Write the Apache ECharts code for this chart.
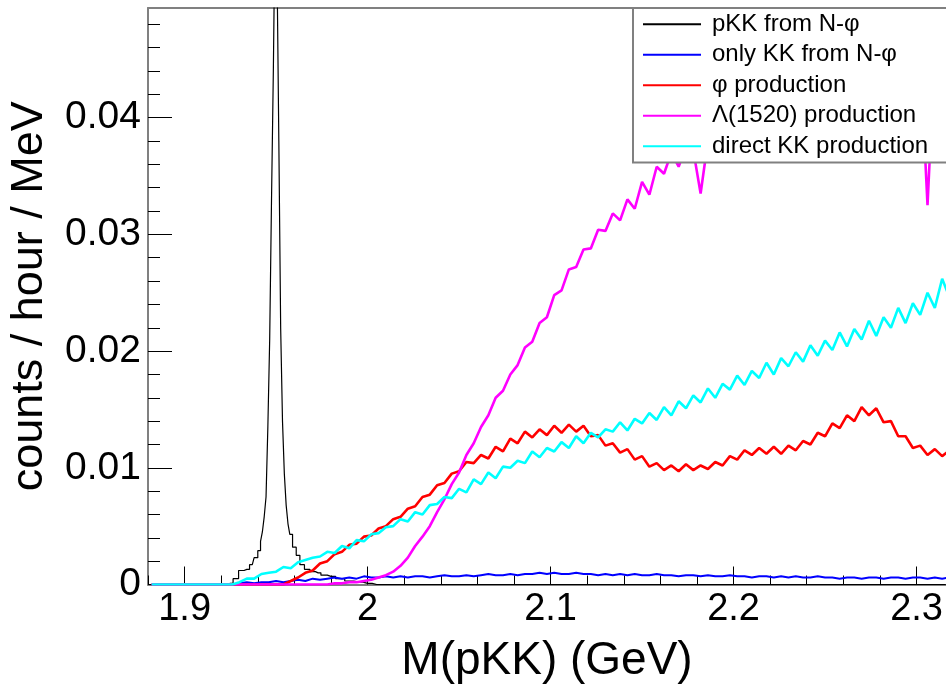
<!DOCTYPE html>
<html>
<head>
<meta charset="utf-8">
<script src="https://cdn.jsdelivr.net/npm/echarts@6/dist/echarts.min.js"></script>
<style>
html,body{margin:0;padding:0;background:#fff;}
#c{width:946px;height:691px;}
</style>
</head>
<body>
<div id="c"></div>
<script>
// ---- data (4 MeV bins, bin centres in GeV) ----
const mass = [
 1.882,1.886,1.890,1.894,1.898,1.902,1.906,1.910,1.914,1.918,
 1.922,1.926,1.930,1.934,1.938,1.942,1.946,1.950,1.954,1.958,
 1.962,1.966,1.970,1.974,1.978,1.982,1.986,1.990,1.994,1.998,
 2.002,2.006,2.010,2.014,2.018,2.022,2.026,2.030,2.034,2.038,
 2.042,2.046,2.050,2.054,2.058,2.062,2.066,2.070,2.074,2.078,
 2.082,2.086,2.090,2.094,2.098,2.102,2.106,2.110,2.114,2.118,
 2.122,2.126,2.130,2.134,2.138,2.142,2.146,2.150,2.154,2.158,
 2.162,2.166,2.170,2.174,2.178,2.182,2.186,2.190,2.194,2.198,
 2.202,2.206,2.210,2.214,2.218,2.222,2.226,2.230,2.234,2.238,
 2.242,2.246,2.250,2.254,2.258,2.262,2.266,2.270,2.274,2.278,
 2.282,2.286,2.290,2.294,2.298,2.302,2.306,2.310,2.314,2.318
];

const onlyKK = [
 0,0,0,0,0,0,0,0,0,0,
 0,0,.0001,.0002,.0001,.0002,.0002,.0003,.0002,.0003,
 .0004,.0003,.0005,.0004,.0005,.0006,.0005,.0006,.0005,.0007,
 .0006,.0006,.0007,.0006,.0007,.0006,.0007,.0007,.0006,.0007,
 .0008,.0007,.0007,.0008,.0007,.0008,.0009,.0008,.0008,.0009,
 .0008,.0009,.0009,.0010,.0009,.0010,.0009,.0009,.0010,.0009,
 .0009,.0008,.0009,.0008,.0009,.0008,.0009,.0008,.0008,.0009,
 .0008,.0008,.0007,.0008,.0008,.0007,.0008,.0007,.0007,.0008,
 .0007,.0007,.0006,.0007,.0007,.0006,.0007,.0006,.0007,.0006,
 .0006,.0007,.0006,.0006,.0005,.0006,.0006,.0005,.0006,.0006,
 .0005,.0006,.0006,.0005,.0006,.0006,.0005,.0006,.0005,.0006
];

const phiProd = [
 0,0,0,0,0,0,0,0,0,0,
 0,0,0,0,0,0,0,0,0,.0003,
 .0006,.0010,.0012,.0018,.0020,.0026,.0028,.0034,.0035,.0041,
 .0042,.0048,.0050,.0056,.0058,.0065,.0067,.0075,.0077,.0085,
 .0087,.0095,.0097,.0105,.0104,.0111,.0108,.0118,.0114,.0125,
 .0121,.0131,.0126,.0133,.0128,.0136,.0130,.0137,.0131,.0136,
 .0127,.0128,.0119,.0121,.0113,.0116,.0107,.0110,.0101,.0104,
 .0098,.0102,.0097,.0103,.0098,.0102,.0099,.0105,.0102,.0110,
 .0107,.0115,.0111,.0117,.0112,.0118,.0112,.0119,.0115,.0123,
 .0120,.0130,.0127,.0138,.0134,.0145,.0140,.0152,.0145,.0151,
 .0139,.0140,.0127,.0127,.0117,.0119,.0111,.0116,.0110,.0115
];

const lambdaProd = [
 0,0,0,0,0,0,0,0,0,0,
 0,0,0,0,0,0,0,0,0,0,
 0,0,0,0,0,.0001,.0001,.0002,.0002,.0003,
 .0004,.0006,.0008,.0011,.0016,.0023,.0033,.0041,.0050,.0062,
 .0073,.0086,.0096,.0111,.0121,.0135,.0145,.0160,.0166,.0180,
 .0188,.0203,.0208,.0224,.0229,.0248,.0252,.0270,.0272,.0287,
 .0288,.0304,.0303,.0318,.0312,.0330,.0322,.0345,.0334,.0358,
 .0352,.0370,.0358,.0376,.0372,.0335,.0380,.0395,.0388,.0402,
 .0398,.0410,.0404,.0415,.0410,.0420,.0414,.0425,.0418,.0428,
 .0424,.0432,.0427,.0437,.0431,.0440,.0434,.0444,.0438,.0448,
 .0442,.0450,.0444,.0452,.0447,.0455,.0325,.0457,.0451,.0458
];

const directKK = [
 0,0,0,0,0,0,0,0,0,0,
 0,0,.0002,.0005,.0005,.0009,.0010,.0011,.0015,.0014,
 .0019,.0021,.0023,.0024,.0028,.0027,.0033,.0031,.0038,.0037,
 .0043,.0044,.0049,.0050,.0056,.0054,.0062,.0060,.0068,.0069,
 .0075,.0074,.0082,.0079,.0090,.0086,.0096,.0091,.0101,.0100,
 .0106,.0104,.0114,.0109,.0117,.0114,.0122,.0117,.0127,.0121,
 .0130,.0126,.0133,.0131,.0139,.0132,.0142,.0138,.0147,.0141,
 .0152,.0145,.0157,.0151,.0162,.0156,.0168,.0160,.0172,.0167,
 .0179,.0171,.0183,.0177,.0190,.0180,.0194,.0187,.0199,.0191,
 .0205,.0196,.0209,.0201,.0216,.0204,.0219,.0210,.0226,.0213,
 .0229,.0220,.0237,.0224,.0241,.0231,.0250,.0237,.0262,.0246
];

// pKK from N-phi: narrow peak, finer bins
const pkkMass = [1.880,1.920,1.925,1.928,1.931,1.934,1.937,1.939,1.941,1.942,
 1.943,1.944,1.945,1.946,1.947,1.948,1.949,1.950,1.951,1.952,
 1.953,1.954,1.955,1.956,1.957,1.958,1.960,1.962,1.964,1.967,
 1.970,1.973,1.976,1.980,1.985,1.990,1.995,2.000,2.005,2.316];
const pkkCounts = [0,0,.0001,.0005,.0012,.0013,.0017,.0023,.0029,.0037,
 .0045,.0058,.0075,.0135,.0210,.0330,.0440,.0580,.0530,.0380,
 .0220,.0140,.0095,.0068,.0052,.0043,.0032,.0025,.0017,.0013,
 .0011,.0010,.0008,.0007,.0005,.0003,.0002,.0001,0,0];

const seriesNames = ['pKK from N-\u03c6','only KK from N-\u03c6','\u03c6 production','\u039b(1520) production','direct KK production'];
const seriesColors = ['#000000','#0000ff','#ff0000','#ff00ff','#00ffff'];

const xMajor = [1.9,2.0,2.1,2.2,2.3];
const xMinor = [1.88,1.92,1.94,1.96,1.98,2.02,2.04,2.06,2.08,2.12,2.14,2.16,2.18,2.22,2.24,2.26,2.28,2.32];
const yMajor = [0,0.01,0.02,0.03,0.04];
const yMinor = [0.002,0.004,0.006,0.008,0.012,0.014,0.016,0.018,0.022,0.024,0.026,0.028,0.032,0.034,0.036,0.038,0.042,0.044,0.046,0.048];

// ---- chart ----
const FONT = '"Liberation Sans", Arial, Helvetica, sans-serif';
const X_MIN = 1.88, X_MAX = 2.3161, Y_MIN = 0, Y_MAX = 0.0494;
const AXIS_GRAY = '#808080';

const pairs = (xs, ys) => xs.map((x, i) => [x, ys[i]]);
const seriesData = [
  pairs(pkkMass, pkkCounts),
  pairs(mass, onlyKK),
  pairs(mass, phiProd),
  pairs(mass, lambdaProd),
  pairs(mass, directKK)
];
const seriesWidths = [1.2, 2, 2.6, 2.6, 2.6];

const chart = echarts.init(document.getElementById('c'), null, {renderer: 'canvas', devicePixelRatio: 1});

const option = {
  animation: false,
  backgroundColor: '#ffffff',
  grid: {left: 148, right: 0, top: 8, bottom: 106.5, containLabel: false, outerBoundsMode: 'none'},
  xAxis: [
    {
      type: 'value', min: X_MIN, max: X_MAX, position: 'bottom',
      axisLine: {show: true, onZero: false, lineStyle: {color: AXIS_GRAY, width: 2}},
      axisTick: {show: true, inside: true, length: 18, customValues: xMajor, lineStyle: {color: '#000', width: 1}},
      axisLabel: {show: true, customValues: xMajor, formatter: v => String(+v.toFixed(2)),
        fontSize: 38, color: '#000', fontFamily: FONT, margin: 6},
      splitLine: {show: false},
      name: 'M(pKK) (GeV)', nameLocation: 'middle', nameGap: 54,
      nameTextStyle: {fontSize: 46, color: '#000', fontFamily: FONT}
    },
    {
      type: 'value', min: X_MIN, max: X_MAX, position: 'bottom',
      axisLine: {show: false, onZero: false},
      axisTick: {show: true, inside: true, length: 9, customValues: xMinor, lineStyle: {color: '#000', width: 1}},
      axisLabel: {show: false}, splitLine: {show: false}
    },
    {
      type: 'value', min: X_MIN, max: X_MAX, position: 'top',
      axisLine: {show: true, onZero: false, lineStyle: {color: AXIS_GRAY, width: 2}},
      axisTick: {show: false}, axisLabel: {show: false}, splitLine: {show: false}
    }
  ],
  yAxis: [
    {
      type: 'value', min: Y_MIN, max: Y_MAX, position: 'left',
      axisLine: {show: true, onZero: false, lineStyle: {color: AXIS_GRAY, width: 2}},
      axisTick: {show: true, inside: true, length: 24, customValues: yMajor, lineStyle: {color: '#000', width: 1}},
      axisLabel: {show: true, customValues: yMajor, formatter: v => (v === 0 ? '0' : v.toFixed(2)),
        fontSize: 39, color: '#000', fontFamily: FONT, margin: 7},
      splitLine: {show: false},
      name: 'counts / hour / MeV', nameLocation: 'middle', nameGap: 96, nameRotate: 90,
      nameTextStyle: {fontSize: 45, color: '#000', fontFamily: FONT}
    },
    {
      type: 'value', min: Y_MIN, max: Y_MAX, position: 'left',
      axisLine: {show: false, onZero: false},
      axisTick: {show: true, inside: true, length: 12, customValues: yMinor, lineStyle: {color: '#000', width: 1}},
      axisLabel: {show: false}, splitLine: {show: false}
    }
  ],
  legend: {
    show: true, orient: 'vertical', left: 633, top: 8,
    padding: [1, 60, 1, 10], itemWidth: 58, itemHeight: 14, itemGap: 0,
    backgroundColor: '#ffffff', borderColor: AXIS_GRAY, borderWidth: 2, borderRadius: 0,
    selectedMode: false, z: 20,
    textStyle: {fontSize: 24, color: '#000', fontFamily: FONT, lineHeight: 30.5, padding: [0, 0, 0, 6]},
    data: seriesNames.map((n) => ({name: n, icon: 'path://M0,0 L58,0 L58,2 L0,2 Z'}))
  },
  series: seriesNames.map((name, k) => ({
    name: name, type: 'line', step: k === 0 ? 'middle' : false, xAxisIndex: 0, yAxisIndex: 0,
    data: seriesData[k], symbol: 'none', showSymbol: false, silent: true, clip: true,
    color: seriesColors[k],
    lineStyle: {color: seriesColors[k], width: seriesWidths[k]},
    itemStyle: {color: seriesColors[k]},
    z: 2 + k
  }))
};
chart.setOption(option);
</script>
</body>
</html>
